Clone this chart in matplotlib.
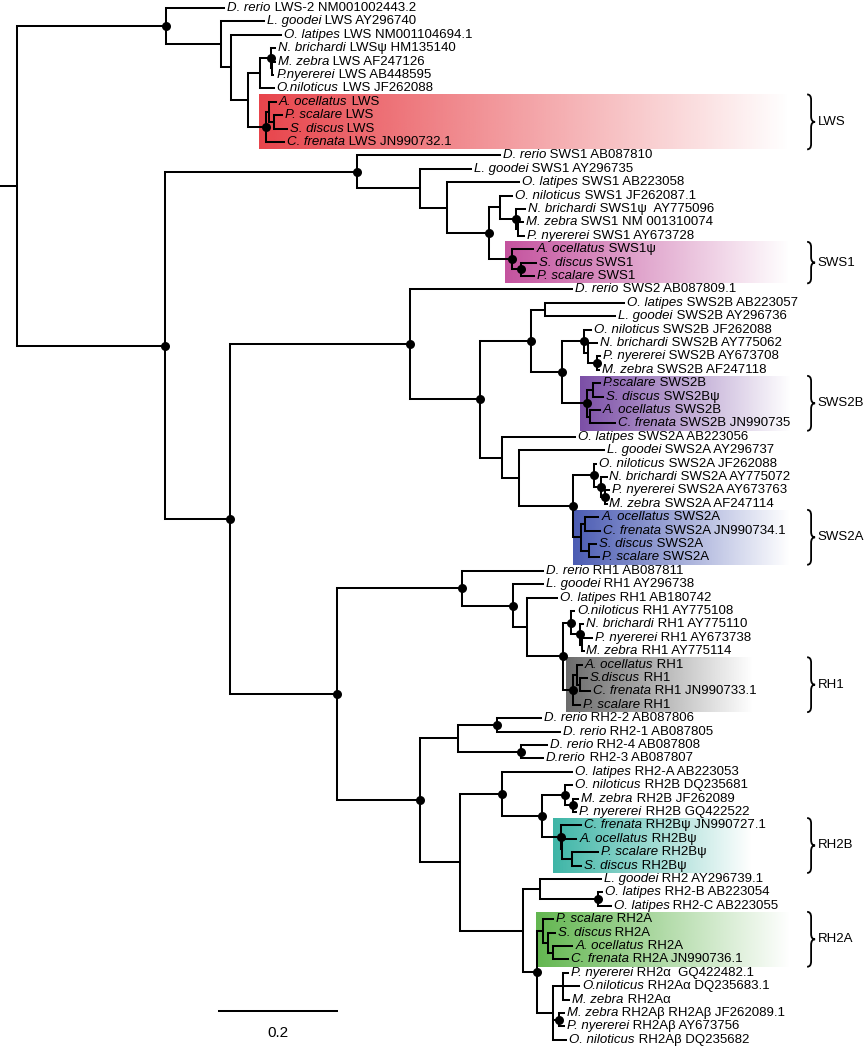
import numpy as np
import matplotlib
matplotlib.use("Agg")
import matplotlib.pyplot as plt
from matplotlib.collections import LineCollection
from matplotlib.path import Path
from matplotlib.patches import PathPatch

plt.rcParams['font.family'] = ['Liberation Sans', 'DejaVu Sans']

# Baum im Newick-Format: Blätter sind Nummern (1..78), '*' = gestützter Knoten
lws_clade = ("(1:0.098,(2:0.073,(3:0.086,(((4:0.007,(5:0.005,6:0.002):0.002)*:0.019,7:0.024):0.020,"
             "((8:0.012,(9:0.014,10:0.022):0.008):0.005,11:0.031)*:0.031):0.029):0.017):0.092)*:0.253")
sws1_clade = ("(12:0.242,(13:0.086,(14:0.122,((15:0.020,(16:0.015,(17:0.008,18:0.010):0.003)*:0.027):0.019,"
              "(19:0.036,(20:0.025,21:0.022)*:0.015)*:0.039)*:0.071):0.046):0.107)*:0.325")
sws2_clade = ("(22:0.275,(((23:0.134,24:0.119):0.024,((25:0.012,(26:0.015,(27:0.005,28:0.003)*:0.015):0.008)*:0.036,"
              "((29:0.012,30:0.017):0.010,(31:0.017,32:0.042):0.005)*:0.042)*:0.053)*:0.086,"
              "(33:0.125,(34:0.144,((35:0.005,(36:0.010,(37:0.007,38:0.003)*:0.007)*:0.012)*:0.034,"
              "((39:0.022,40:0.025):0.008,(41:0.012,42:0.017):0.014):0.012)*:0.093):0.029):0.036)*:0.119)*:0.305")
rh1_clade = ("(43:0.137,(44:0.051,(45:0.051,((46:0.005,(47:0.005,(48:0.017,49:0.003):0.003)*:0.015)*:0.014,"
             "((50:0.008,(51:0.012,52:0.017):0.005):0.007,53:0.012)*:0.017)*:0.061):0.024)*:0.086)*:0.212")
rh2_clade = ("(((54:0.075,55:0.107)*:0.066,(56:0.044,57:0.037)*:0.107):0.064,"
             "((58:0.119,((59:0.012,(60:0.008,61:0.005)*:0.014)*:0.039,(62:0.034,(63:0.024,(64:0.044,65:0.015):0.017):0.003)*:0.031)*:0.068)*:0.071,"
             "((66:0.102,(67:0.007,68:0.022)*:0.097):0.029,((69:0.017,(70:0.012,(71:0.032,72:0.025):0.010):0.007):0.010,"
             "((73:0.007,74:0.027,75:0.010):0.017,(76:0.008,77:0.008)*:0.010,78:0.022):0.027)*:0.024):0.107):0.068)*:0.141")

rh_clade = "(" + rh1_clade + "," + rh2_clade + ")*:0.181"
newick = "(" + lws_clade + ",(" + sws1_clade + ",(" + sws2_clade + "," + rh_clade + ")*:0.110)*:0.251):0.029;"

species = ["D. rerio", "L. goodei", "O. latipes", "N. brichardi", "M. zebra", "P.nyererei", "O.niloticus",
           "A. ocellatus", "P. scalare", "S. discus", "C. frenata",
           "D. rerio", "L. goodei", "O. latipes", "O. niloticus", "N. brichardi", "M. zebra", "P. nyererei",
           "A. ocellatus", "S. discus", "P. scalare",
           "D. rerio", "O. latipes", "L. goodei", "O. niloticus", "N. brichardi", "P. nyererei", "M. zebra",
           "P.scalare", "S. discus", "A. ocellatus", "C. frenata",
           "O. latipes", "L. goodei", "O. niloticus", "N. brichardi", "P. nyererei", "M. zebra",
           "A. ocellatus", "C. frenata", "S. discus", "P. scalare",
           "D. rerio", "L. goodei", "O. latipes", "O.niloticus", "N. brichardi", "P. nyererei", "M. zebra",
           "A. ocellatus", "S.discus", "C. frenata", "P. scalare",
           "D. rerio", "D. rerio", "D. rerio", "D.rerio",
           "O. latipes", "O. niloticus", "M. zebra", "P. nyererei",
           "C. frenata", "A. ocellatus", "P. scalare", "S. discus",
           "L. goodei", "O. latipes", "O. latipes",
           "P. scalare", "S. discus", "A. ocellatus", "C. frenata",
           "P. nyererei", "O.niloticus", "M. zebra", "M. zebra", "P. nyererei", "O. niloticus"]

genes = ["LWS-2 NM001002443.2", "LWS AY296740", "LWS NM001104694.1", "LWSψ HM135140", "LWS AF247126",
         "LWS AB448595", "LWS JF262088", "LWS", "LWS", "LWS", "LWS JN990732.1",
         "SWS1 AB087810", "SWS1 AY296735", "SWS1 AB223058", "SWS1 JF262087.1", "SWS1ψ  AY775096",
         "SWS1 NM 001310074", "SWS1 AY673728", "SWS1ψ", "SWS1", "SWS1",
         "SWS2 AB087809.1", "SWS2B AB223057", "SWS2B AY296736", "SWS2B JF262088", "SWS2B AY775062",
         "SWS2B AY673708", "SWS2B AF247118", "SWS2B", "SWS2Bψ", "SWS2B", "SWS2B JN990735",
         "SWS2A AB223056", "SWS2A AY296737", "SWS2A JF262088", "SWS2A AY775072", "SWS2A AY673763",
         "SWS2A AF247114", "SWS2A", "SWS2A JN990734.1", "SWS2A", "SWS2A",
         "RH1 AB087811", "RH1 AY296738", "RH1 AB180742", "RH1 AY775108", "RH1 AY775110", "RH1 AY673738",
         "RH1 AY775114", "RH1", "RH1", "RH1 JN990733.1", "RH1",
         "RH2-2 AB087806", "RH2-1 AB087805", "RH2-4 AB087808", "RH2-3 AB087807",
         "RH2-A AB223053", "RH2B DQ235681", "RH2B JF262089", "RH2B GQ422522",
         "RH2Bψ JN990727.1", "RH2Bψ", "RH2Bψ", "RH2Bψ",
         "RH2 AY296739.1", "RH2-B AB223054", "RH2-C AB223055",
         "RH2A", "RH2A", "RH2A", "RH2A JN990736.1",
         "RH2α  GQ422482.1", "RH2Aα DQ235683.1", "RH2Aα", "RH2Aβ RH2Aβ JF262089.1",
         "RH2Aβ AY673756", "RH2Aβ DQ235682"]

# hervorgehobene Gruppen: Name, erstes/letztes Blatt, Farbe
group_names = ["LWS", "SWS1", "SWS2B", "SWS2A", "RH1", "RH2B", "RH2A"]
group_first = [8, 19, 29, 39, 50, 62, 69]
group_last = [11, 21, 32, 42, 53, 65, 72]
group_colors = ["#E8444B", "#C4529E", "#7B4EA6", "#4A5BB3", "#6B6B6B", "#3DB5A6", "#62B64F"]
group_box_end = [1.339, 1.339, 1.339, 1.339, 1.275, 1.275, 1.339]

scale_length = 0.2


def parse(s):
    s = s.replace(" ", "").rstrip(";")
    pos = 0

    def node():
        nonlocal pos
        n = {"children": [], "label": "", "bl": 0.0}
        if s[pos] == "(":
            pos += 1
            while True:
                n["children"].append(node())
                if s[pos] == ",":
                    pos += 1
                    continue
                break
            pos += 1
        start = pos
        while pos < len(s) and s[pos] not in ":,)":
            pos += 1
        n["label"] = s[start:pos]
        if pos < len(s) and s[pos] == ":":
            pos += 1
            start = pos
            while pos < len(s) and s[pos] not in ",)":
                pos += 1
            n["bl"] = float(s[start:pos])
        return n
    return node()


tree = parse(newick)
all_nodes = []
leaf_counter = [0]


def layout(n, parent_x):
    n["px"] = parent_x
    n["x"] = parent_x + n["bl"]
    all_nodes.append(n)
    if not n["children"]:
        n["y"] = leaf_counter[0]
        n["lo"] = n["hi"] = int(n["label"])
        leaf_counter[0] += 1
        return
    for c in n["children"]:
        layout(c, n["x"])
    n["y"] = (n["children"][0]["y"] + n["children"][-1]["y"]) / 2
    n["lo"] = n["children"][0]["lo"]
    n["hi"] = n["children"][-1]["hi"]


layout(tree, 0.0)
leaf_y = {int(n["label"]): n["y"] for n in all_nodes if not n["children"]}

fig = plt.figure(figsize=(8.65, 10.5), dpi=100)
ax = fig.add_axes([0, 0, 1, 1])
ax.axis("off")

segs = []
for n in all_nodes:
    segs.append([(n["px"], n["y"]), (n["x"], n["y"])])
    if n["children"]:
        segs.append([(n["x"], n["children"][0]["y"]), (n["x"], n["children"][-1]["y"])])
ax.add_collection(LineCollection(segs, colors="black", linewidths=1.45, capstyle="projecting", zorder=2))

sup = [n for n in all_nodes if n["label"] == "*"]
ax.scatter([n["x"] for n in sup], [n["y"] for n in sup], s=42, color="black", zorder=3, linewidths=0)

# Beschriftung der Blätter
for n in all_nodes:
    if n["children"]:
        continue
    i = int(n["label"]) - 1
    t = ax.text(n["x"] + 0.005, n["y"], species[i], style="italic", fontsize=9.5, va="center", ha="left", zorder=4)
    ax.annotate(" " + genes[i], xy=(1, 0), xycoords=t, va="bottom", ha="left", fontsize=9.5, zorder=4)


def brace(ax, x0, y0, y1, w=0.0135, r=0.4):
    xm = x0 + w / 2
    x1 = x0 + w
    ym = (y0 + y1) / 2
    verts = [(x0, y0), (xm, y0), (xm, y0 + r), (xm, ym - r), (xm, ym), (x1, ym),
             (xm, ym), (xm, ym + r), (xm, y1 - r), (xm, y1), (x0, y1)]
    codes = [Path.MOVETO, Path.CURVE3, Path.CURVE3, Path.LINETO, Path.CURVE3, Path.CURVE3,
             Path.CURVE3, Path.CURVE3, Path.LINETO, Path.CURVE3, Path.CURVE3]
    ax.add_patch(PathPatch(Path(verts, codes), fill=False, lw=1.3, color="black", zorder=3))


node_by_range = {(n["lo"], n["hi"]): n for n in all_nodes if n["children"]}
for name, a, b, col, xend in zip(group_names, group_first, group_last, group_colors, group_box_end):
    mrca = node_by_range[(a, b)]
    x0 = mrca["x"] - 0.012
    y0 = leaf_y[a] - 0.55
    y1 = leaf_y[b] + 0.55
    grad = np.zeros((1, 256, 4))
    grad[0, :, :3] = matplotlib.colors.to_rgb(col)
    grad[0, :, 3] = np.linspace(1, 0, 256)
    ax.imshow(grad, extent=(x0, xend, y1, y0), aspect="auto", interpolation="bilinear", zorder=1)
    brace(ax, 1.368, y0, y1)
    ax.text(1.386, (y0 + y1) / 2, name, fontsize=9.5, va="center", ha="left")

# Maßstab
sx0 = 0.371
ax.plot([sx0, sx0 + scale_length], [74.85, 74.85], color="black", lw=1.45)
ax.text(sx0 + scale_length / 2, 76.5, str(scale_length), fontsize=11, ha="center", va="center")

ax.set_xlim(0, 865 / 590)
ax.set_ylim((1050 - 8) / 13.4, -8 / 13.4)

plt.savefig("out.png", dpi=100)
